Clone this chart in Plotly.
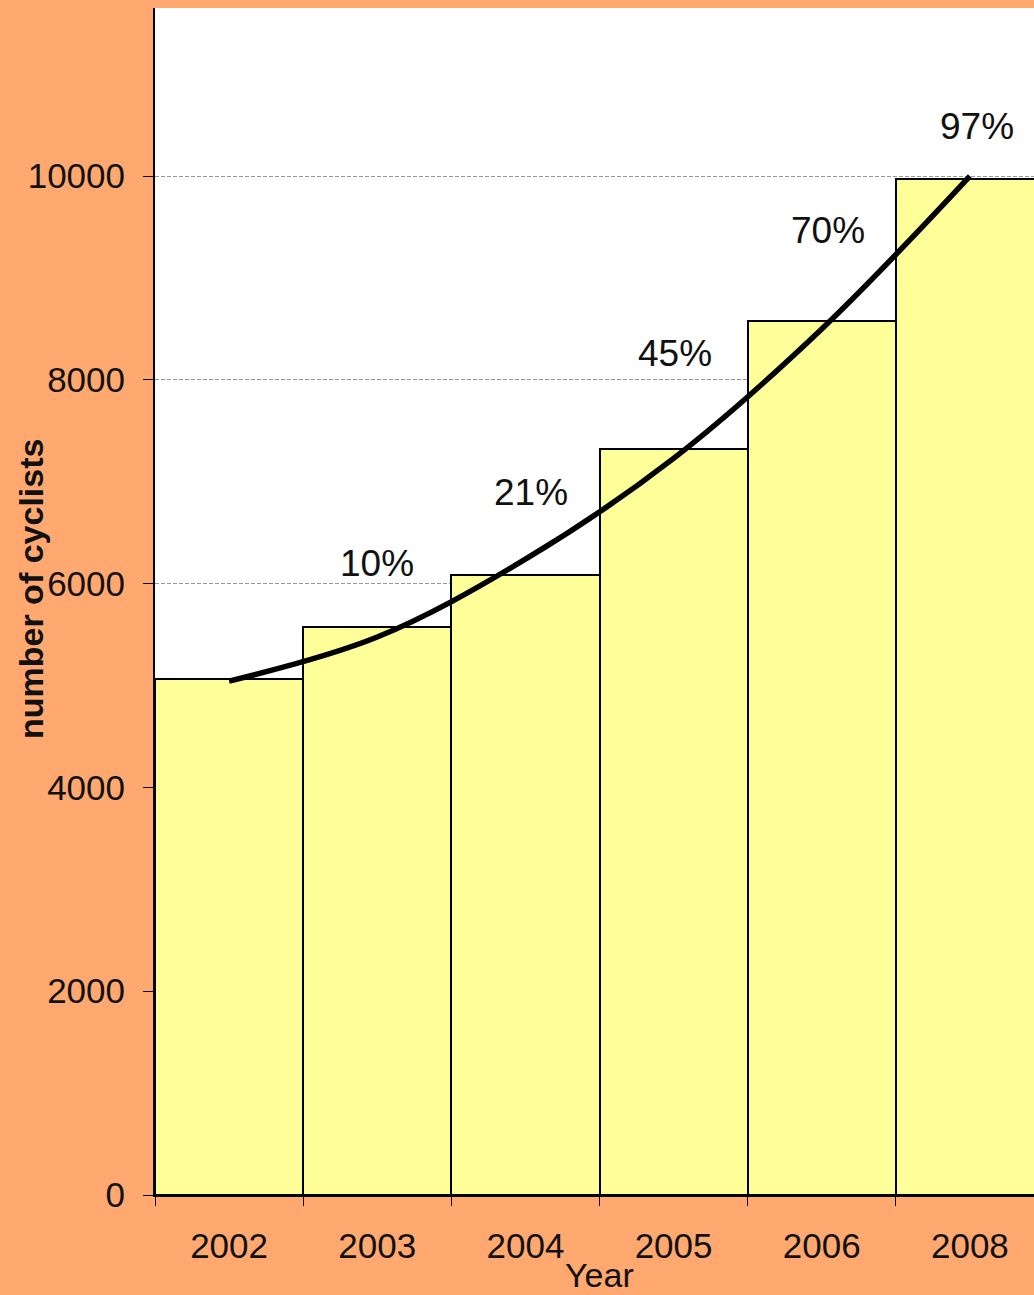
import plotly.graph_objects as go

# ---- data ----
years = ["2002", "2003", "2004", "2005", "2006", "2008"]
cyclists = [5060, 5570, 6090, 7320, 8580, 9970]
trend = [5044, 5476, 6240, 7230, 8500, 10000]
growth_labels = ["10%", "21%", "45%", "70%", "97%"]
y_ticks = [0, 2000, 4000, 6000, 8000, 10000]
y_tick_text = ["0", "2000", "4000", "6000", "8000", "10000"]

ORANGE = "#FFA870"
YELLOW = "#FFFF99"
FONT = "Liberation Sans, Arial, sans-serif"
TXT = "#111111"

fig = go.Figure()

fig.add_trace(go.Bar(
    x=years, y=cyclists,
    marker=dict(color=YELLOW, line=dict(color="black", width=2)),
    width=1.0,
    showlegend=False,
))

fig.add_trace(go.Scatter(
    x=years, y=trend, mode="lines",
    line=dict(color="black", width=5.5, shape="spline", smoothing=1.0),
    showlegend=False,
))

# percent annotations (placement of the label text)
label_pos = [(1.0, 6200), (2.04, 6890), (3.01, 8260), (4.04, 9470), (5.05, 10490)]
for txt, (lx, ly) in zip(growth_labels, label_pos):
    fig.add_annotation(x=lx, y=ly, xref="x", yref="y", text=txt, showarrow=False,
                       font=dict(family=FONT, size=37, color=TXT),
                       xanchor="center", yanchor="middle")

# x title
fig.add_annotation(x=2.5, y=(1195 - 1275) / 1187, xref="x", yref="paper", text="Year",
                   showarrow=False, font=dict(family=FONT, size=34, color=TXT),
                   xanchor="center", yanchor="middle")

# y title
fig.add_annotation(x=(31 - 155) / 879, y=(1195 - 589) / 1187, xref="paper", yref="paper",
                   text="<b>number of cyclists</b>", textangle=-90, showarrow=False,
                   font=dict(family=FONT, size=34, color=TXT),
                   xanchor="center", yanchor="middle")

fig.update_layout(
    width=1034, height=1295,
    margin=dict(l=155, r=0, t=8, b=100),
    paper_bgcolor=ORANGE,
    plot_bgcolor="white",
    bargap=0,
    font=dict(family=FONT, color=TXT),
)

fig.update_xaxes(
    type="category",
    range=[-0.5, 5.5 - 10 / 148.2],
    showline=True, linecolor="black", linewidth=2,
    ticks="outside", tickson="boundaries", ticklen=9, tickcolor="black", tickwidth=1,
    tickfont=dict(family=FONT, size=35, color=TXT),
    ticklabelstandoff=19,
    showgrid=False, zeroline=False,
)

fig.update_yaxes(
    range=[0, 11650],
    tickvals=y_ticks, ticktext=y_tick_text,
    showline=True, linecolor="black", linewidth=2,
    ticks="outside", ticklen=10, tickcolor="black", tickwidth=1,
    tickfont=dict(family=FONT, size=35, color=TXT),
    ticklabelstandoff=11,
    showgrid=True, gridcolor="#999999", gridwidth=1, griddash="4px,2px",
    zeroline=False,
)

fig.write_html("out.html")
